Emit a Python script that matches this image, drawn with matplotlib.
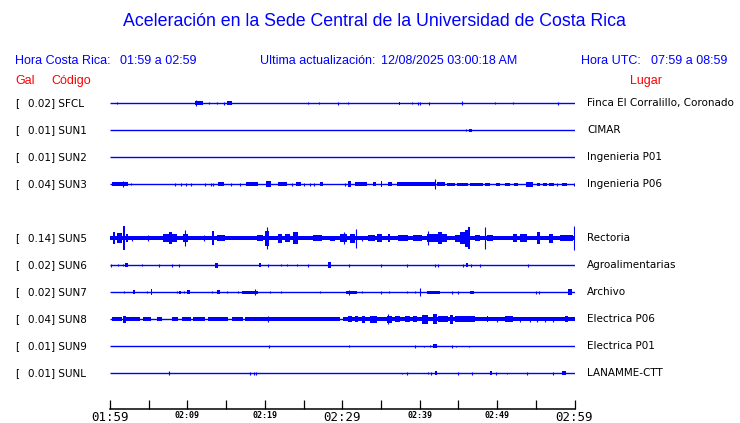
import matplotlib
matplotlib.use("Agg")
import matplotlib.pyplot as plt

# ---------------- data ----------------
codes = ["SFCL", "SUN1", "SUN2", "SUN3", "SUN5", "SUN6", "SUN7", "SUN8", "SUN9", "SUNL"]
peaks = [0.02, 0.01, 0.01, 0.04, 0.14, 0.02, 0.02, 0.04, 0.01, 0.01]
places = ["Finca El Corralillo, Coronado", "CIMAR", "Ingenieria P01", "Ingenieria P06",
          "Rectoria", "Agroalimentarias", "Archivo", "Electrica P06", "Electrica P01",
          "LANAMME-CTT"]
row_slot = [0, 1, 2, 3, 5, 6, 7, 8, 9, 10]

# continuous background noise level (Gal) for each trace
base_noise = [0, 0, 0, 0, 0.024, 0, 0, 0, 0, 0]

# bursts: (start minute after 01:59, end minute, half amplitude in Gal)
sfcl = [(0.87, 0.87, 0.012), (11.0, 12.0, 0.025), (11.1, 11.1, 0.035), (12.83, 12.83, 0.012),
        (13.86, 13.86, 0.012), (14.76, 14.76, 0.015), (15.07, 15.8, 0.022), (25.61, 25.61, 0.01),
        (27.03, 27.03, 0.01), (29.49, 29.49, 0.015), (30.78, 30.78, 0.01), (37.3, 37.5, 0.02),
        (39.05, 39.05, 0.012), (39.82, 39.82, 0.02), (40.08, 40.08, 0.02), (41.24, 41.24, 0.02),
        (45.43, 45.43, 0.025), (49.77, 49.77, 0.012), (52.09, 52.09, 0.012), (57.9, 57.9, 0.02)]
sun1 = [(46.0, 46.0, 0.01), (46.4, 46.7, 0.018)]
sun2 = []
sun3 = [(0.22, 2.29, 0.024), (1.72, 1.72, 0.035), (2.67, 2.67, 0.012), (8.43, 8.43, 0.02),
        (9.13, 9.13, 0.02), (9.82, 9.82, 0.02), (10.42, 10.42, 0.02), (12.31, 12.31, 0.02),
        (13.05, 13.05, 0.02), (13.34, 13.34, 0.02), (13.99, 14.76, 0.022), (15.63, 15.63, 0.02),
        (16.83, 16.83, 0.015), (17.6, 19.16, 0.022), (20.11, 20.76, 0.035), (21.74, 22.82, 0.022),
        (23.47, 23.47, 0.02), (24.02, 24.63, 0.022), (25.1, 25.1, 0.02), (25.83, 25.83, 0.02),
        (26.35, 26.35, 0.02), (27.12, 27.47, 0.022), (30.35, 30.35, 0.015), (30.78, 31.13, 0.035),
        (31.65, 33.16, 0.022), (33.97, 34.32, 0.022), (34.97, 35.17, 0.035), (35.87, 36.39, 0.022),
        (37.11, 41.98, 0.022), (42.02, 42.02, 0.06), (42.2, 43.27, 0.022), (43.5, 44.6, 0.018),
        (44.8, 46.3, 0.018), (46.5, 48.2, 0.018), (48.44, 49.08, 0.018), (49.86, 50.37, 0.018),
        (51.02, 51.66, 0.018), (52.18, 52.7, 0.018), (53.69, 54.67, 0.03), (55.1, 55.6, 0.02),
        (55.9, 56.5, 0.02), (56.7, 57.3, 0.02), (57.7, 57.7, 0.02), (58.34, 59.07, 0.02),
        (59.93, 59.93, 0.02)]
sun5 = [(0.43, 0.65, 0.07), (0.87, 1.51, 0.06), (1.72, 1.94, 0.14), (2.03, 2.36, 0.047),
        (2.8, 2.8, 0.03), (4.95, 4.95, 0.035), (6.88, 8.62, 0.045), (7.62, 8.0, 0.07),
        (9.47, 10.11, 0.045), (9.69, 9.69, 0.095), (12.14, 12.14, 0.035), (13.14, 13.43, 0.08),
        (13.78, 14.85, 0.035), (18.95, 19.8, 0.035), (20.02, 20.54, 0.09), (20.32, 20.32, 0.13),
        (21.74, 22.18, 0.055), (22.6, 23.25, 0.045), (23.68, 24.32, 0.07), (26.26, 27.34, 0.035),
        (28.42, 29.06, 0.028), (29.71, 30.57, 0.047), (30.26, 30.26, 0.07), (31.0, 31.64, 0.055),
        (31.77, 31.77, 0.11), (32.51, 32.51, 0.03), (33.36, 34.23, 0.035), (34.45, 35.09, 0.047),
        (35.95, 36.17, 0.047), (37.24, 38.53, 0.035), (39.18, 40.26, 0.035), (40.98, 43.57, 0.045),
        (41.11, 41.11, 0.08), (42.37, 42.84, 0.07), (44.56, 45.21, 0.04), (45.21, 45.85, 0.07),
        (45.85, 46.24, 0.1), (46.24, 46.5, 0.13), (47.14, 47.79, 0.035), (48.44, 48.44, 0.13),
        (48.66, 49.51, 0.035), (52.09, 52.53, 0.047), (52.96, 53.82, 0.047), (55.11, 55.54, 0.07),
        (56.74, 57.26, 0.055), (58.12, 59.84, 0.035), (59.97, 59.97, 0.14)]
sun6 = [(0.13, 0.13, 0.02), (1.07, 1.07, 0.01), (1.72, 1.72, 0.01), (1.94, 2.29, 0.025),
        (4.09, 4.09, 0.012), (6.37, 6.37, 0.015), (7.97, 7.97, 0.015), (8.95, 8.95, 0.015),
        (13.56, 13.91, 0.03), (19.28, 19.46, 0.025), (20.37, 20.37, 0.02), (22.05, 22.05, 0.01),
        (22.9, 22.9, 0.012), (24.19, 24.19, 0.01), (25.54, 25.54, 0.015), (28.2, 28.51, 0.035),
        (30.91, 30.91, 0.015), (35.04, 35.04, 0.015), (38.4, 38.4, 0.015), (42.02, 42.02, 0.015),
        (42.4, 42.4, 0.015), (45.63, 45.63, 0.02), (45.95, 46.2, 0.025), (46.59, 46.59, 0.02),
        (47.75, 47.75, 0.02), (53.95, 53.95, 0.015)]
sun7 = [(1.85, 1.85, 0.01), (3.01, 3.23, 0.025), (4.82, 4.82, 0.01), (5.26, 5.46, 0.035),
        (8.69, 8.69, 0.01), (8.95, 9.17, 0.02), (9.56, 9.56, 0.01), (9.95, 10.37, 0.025),
        (13.21, 13.21, 0.01), (13.78, 14.21, 0.025), (15.07, 15.07, 0.01), (16.57, 16.57, 0.01),
        (17.09, 19.08, 0.02), (18.73, 18.73, 0.035), (20.63, 20.63, 0.01), (22.09, 22.09, 0.01),
        (27.16, 27.16, 0.01), (30.52, 31.86, 0.02), (30.87, 30.87, 0.03), (32.55, 32.55, 0.01),
        (35.04, 35.04, 0.02), (36.04, 36.04, 0.01), (38.4, 38.4, 0.012), (39.4, 39.4, 0.01),
        (40.04, 40.04, 0.045), (40.9, 42.62, 0.02), (44.14, 44.14, 0.02), (44.99, 44.99, 0.02),
        (46.5, 47.02, 0.02), (54.99, 54.99, 0.015), (55.45, 55.45, 0.015), (59.2, 59.63, 0.035)]
sun8 = [(0.22, 1.51, 0.025), (1.72, 2.07, 0.04), (2.07, 3.87, 0.022), (4.22, 5.3, 0.025),
        (6.03, 6.76, 0.025), (7.97, 8.82, 0.022), (9.26, 10.46, 0.022), (10.76, 12.27, 0.022),
        (12.7, 15.28, 0.022), (15.72, 17.22, 0.022), (17.44, 20.37, 0.022), (20.45, 20.45, 0.035),
        (20.45, 29.71, 0.022), (30.13, 60.0, 0.022), (30.78, 31.22, 0.035), (31.65, 32.07, 0.035),
        (32.51, 32.94, 0.04), (33.58, 34.45, 0.04), (35.74, 36.39, 0.04), (35.95, 35.95, 0.06),
        (36.81, 37.46, 0.035), (38.1, 38.75, 0.035), (39.18, 39.62, 0.035), (40.26, 41.11, 0.05),
        (41.76, 42.2, 0.06), (42.4, 43.7, 0.035), (43.92, 44.34, 0.05), (44.56, 47.14, 0.035),
        (48.66, 48.87, 0.035), (49.94, 49.94, 0.03), (51.02, 52.09, 0.035), (52.96, 52.96, 0.03),
        (54.25, 54.25, 0.03), (55.11, 55.11, 0.03), (56.19, 56.19, 0.03), (57.26, 57.26, 0.03),
        (58.77, 59.2, 0.035)]
sun9 = [(20.58, 20.58, 0.018), (30.91, 30.91, 0.01), (39.43, 39.43, 0.015), (40.6, 40.6, 0.008),
        (41.33, 41.33, 0.012), (41.76, 42.2, 0.025), (44.14, 44.14, 0.015), (44.65, 44.65, 0.008),
        (46.41, 46.41, 0.008)]
sunl = [(7.62, 7.62, 0.025), (18.12, 18.12, 0.015), (18.6, 18.6, 0.02), (18.9, 18.9, 0.02),
        (37.75, 37.75, 0.008), (38.4, 38.4, 0.015), (41.11, 41.11, 0.012), (41.46, 41.46, 0.015),
        (41.98, 42.2, 0.025), (44.99, 44.99, 0.015), (46.72, 46.72, 0.02), (49.08, 49.3, 0.025),
        (49.82, 49.82, 0.015), (51.24, 51.24, 0.008), (53.82, 53.82, 0.015), (57.26, 57.26, 0.015),
        (58.42, 58.86, 0.025)]
bursts = [sfcl, sun1, sun2, sun3, sun5, sun6, sun7, sun8, sun9, sunl]

tick_minutes = list(range(0, 61, 5))
tick_labels = {0: "01:59", 10: "02:09", 20: "02:19", 30: "02:29", 40: "02:39", 50: "02:49", 60: "02:59"}
big_ticks = [0, 30, 60]

# ---------------- figure ----------------
BLUE = "#0000ff"
RED = "#ff0000"
W, H = 740, 423
fig = plt.figure(figsize=(W / 100, H / 100), dpi=100)

def fx(px):
    return px / W

def fy(py):
    return 1 - py / H

hdr = dict(family="Liberation Sans", fontsize=9, color=BLUE, va="center")
fig.text(fx(374), fy(22), "Aceleración en la Sede Central de la Universidad de Costa Rica",
         family="Liberation Sans", fontsize=12.8, color=BLUE, ha="center", va="center")
fig.text(fx(15), fy(61), "Hora Costa Rica:", **hdr)
fig.text(fx(120), fy(61), "01:59 a 02:59", **hdr)
fig.text(fx(260), fy(61), "Ultima actualización:", **hdr)
fig.text(fx(381), fy(61), "12/08/2025 03:00:18 AM", **hdr)
fig.text(fx(581), fy(61), "Hora UTC:", **hdr)
fig.text(fx(651), fy(61), "07:59 a 08:59", **hdr)
red = dict(family="Liberation Sans", fontsize=9, color=RED, va="center")
fig.text(fx(15), fy(81), "Gal", **red)
fig.text(fx(51), fy(81), "Código", **red)
fig.text(fx(630), fy(81), "Lugar", **red)

# trace axes: x in minutes, y in row slots
ROW_PX = 27
Y0 = 103.3
top_px, bot_px = 90, 408.7
left_px, right_px = 110, 574.5
ax = fig.add_axes([fx(left_px), fy(bot_px), (right_px - left_px) / W, (bot_px - top_px) / H])
ax.set_xlim(0, 60)
ax.set_ylim((bot_px - Y0) / ROW_PX, (top_px - Y0) / ROW_PX)
ax.patch.set_alpha(0)
for s in ["top", "left", "right"]:
    ax.spines[s].set_visible(False)
ax.spines["bottom"].set_linewidth(1.1)
ax.set_yticks([])
ax.set_xticks(tick_minutes)
ax.set_xticklabels([tick_labels.get(m, "") for m in tick_minutes])
ax.tick_params(axis="x", direction="in", length=6.3, width=0.9, pad=2, colors="black")
for m, lab in zip(tick_minutes, ax.get_xticklabels()):
    lab.set_fontfamily("DejaVu Sans Mono")
    if m in big_ticks:
        lab.set_fontsize(9)
    else:
        lab.set_fontsize(6)
        lab.set_fontweight("bold")

GAIN = 85.0 / ROW_PX  # row units per Gal

for i, code in enumerate(codes):
    y = row_slot[i]
    ax.plot([0, 60], [y, y], color=BLUE, lw=1.0, solid_capstyle="butt")
    if base_noise[i] > 0:
        a = base_noise[i] * GAIN
        ax.fill_between([0, 60], y - a, y + a, color=BLUE, lw=0)
    for (t0, t1, amp) in bursts[i]:
        a = amp * GAIN
        if t1 > t0:
            ax.fill_between([t0, t1], y - a, y + a, color=BLUE, lw=0)
        else:
            ax.vlines(t0, y - a, y + a, color=BLUE, lw=0.8)
    py = Y0 + ROW_PX * y
    fig.text(fx(15), fy(py), "[", family="DejaVu Sans", fontsize=7.5, va="center")
    fig.text(fx(28), fy(py), f"{peaks[i]:.2f}] {code}", family="DejaVu Sans", fontsize=7.5,
             va="center")
    fig.text(fx(587), fy(py), places[i], family="DejaVu Sans", fontsize=7.5, va="center")

fig.savefig("out.png", dpi=100)
